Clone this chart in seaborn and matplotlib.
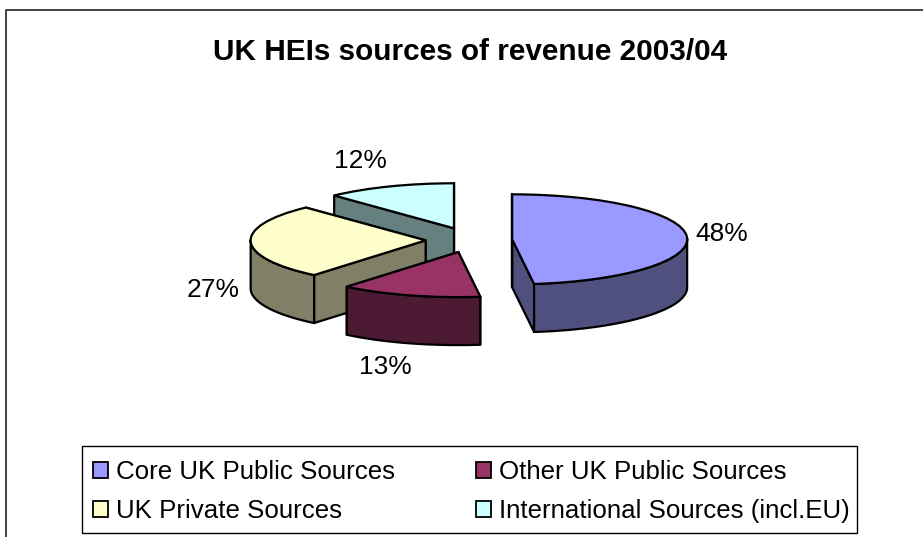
import numpy as np
import matplotlib
matplotlib.use("Agg")
import matplotlib.pyplot as plt
from matplotlib.lines import Line2D
from matplotlib.patches import Patch, Rectangle
import seaborn as sns

sources = ["Core UK Public Sources", "Other UK Public Sources",
           "UK Private Sources", "International Sources (incl.EU)"]
shares = [48, 13, 27, 12]
pct_labels = ["48%", "13%", "27%", "12%"]
explode = [0.23, 0.28, 0.265, 0.28]
top_colors = ["#9999FF", "#993366", "#FFFFCC", "#CCFFFF"]
side_colors = ["#50507F", "#4D1A33", "#808066", "#668080"]

W, H = 923, 537
sns.set_style("white")
plt.rcParams["font.family"] = ["Liberation Sans", "DejaVu Sans"]

fig = plt.figure(figsize=(W / 100, H / 100), dpi=100)
ax = fig.add_axes([0, 0, 1, 1])

# pie centre and radii in pixels, squashed so it looks tilted
cx, cy, rx, ry = 472, 240, 175, 45
depth = 48 / ry

wedges, _ = ax.pie(shares, explode=explode, colors=sns.color_palette(top_colors),
                   startangle=90, counterclock=False,
                   wedgeprops=dict(edgecolor="black", linewidth=1.6))
ax.set_aspect("auto")
ax.set_xlim((0 - cx) / rx, (W - cx) / rx)
ax.set_ylim((cy - H) / ry, cy / ry)
ax.axis("off")

# sides of the slices, back slices first
for z, i in enumerate([3, 2, 1, 0]):
    w = wedges[i]
    x0, y0 = w.center
    base = 10 * (z + 1)
    style = dict(facecolor=side_colors[i], edgecolor="black", linewidth=1.6,
                 joinstyle="round")
    for t in (w.theta1, w.theta2):
        ex, ey = x0 + np.cos(np.radians(t)), y0 + np.sin(np.radians(t))
        ax.fill([x0, ex, ex, x0], [y0, ey, ey - depth, y0 - depth],
                zorder=base, **style)
    a = np.radians(np.linspace(w.theta1, w.theta2, 100))
    a = a[np.sin(a) < 0.02]
    if len(a):
        xs = x0 + np.cos(a)
        ys = y0 + np.sin(a)
        ax.fill(np.r_[xs, xs[::-1]], np.r_[ys, ys[::-1] - depth],
                zorder=base + 1, **style)
    w.set_zorder(base + 2)

def fx(px):
    return px / W

def fy(py):
    return 1 - py / H

# outer chart border
fig.add_artist(Line2D([fx(6), fx(6), 1], [0, fy(10), fy(10)], color="#222222", lw=1.2))

fig.text(fx(470), fy(52), "UK HEIs sources of revenue 2003/04", fontsize=21.4,
         fontweight="bold", ha="center", va="center", color="black")

label_pos = [(722, 234), (385, 367), (213, 290), (360, 161)]
for txt, (px, py) in zip(pct_labels, label_pos):
    fig.text(fx(px), fy(py), txt, fontsize=19, ha="center", va="center", color="black")

# legend box drawn apart, its padding is not even on both sides in the original
fig.add_artist(Rectangle((fx(82), fy(533)), fx(857) - fx(82), fy(446) - fy(533),
                         transform=fig.transFigure, facecolor="none",
                         edgecolor="black", linewidth=1.0))

# matplotlib fills legend columns first, the chart reads row by row
legend_order = [0, 2, 1, 3]
handles = [Patch(facecolor=top_colors[i], edgecolor="black", linewidth=1.3) for i in legend_order]
labels = [sources[i] for i in legend_order]
leg = ax.legend(handles, labels, ncol=2, loc="lower left",
                bbox_to_anchor=(fx(82), fy(534)), bbox_transform=fig.transFigure,
                fontsize=18.6, frameon=False, labelcolor="black",
                handlelength=0.58, handleheight=0.58,
                handletextpad=0.32, columnspacing=3.13, labelspacing=0.58,
                borderpad=0.42, borderaxespad=0)
leg.set_zorder(100)

fig.savefig("out.png", dpi=100)
